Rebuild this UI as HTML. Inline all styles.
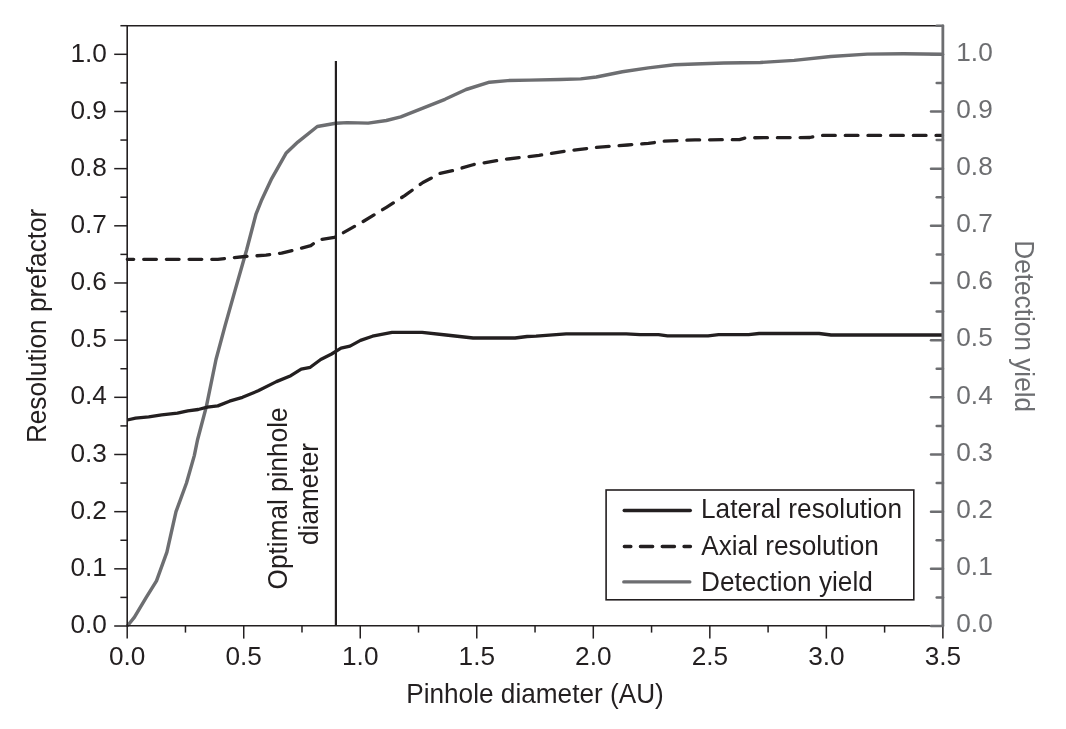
<!DOCTYPE html>
<html>
<head>
<meta charset="utf-8">
<title>Resolution prefactor and detection yield vs pinhole diameter</title>
<style>
  html, body { margin: 0; padding: 0; background: #ffffff; }
  body { width: 1066px; height: 729px; overflow: hidden; }
  svg { display: block; will-change: transform; }
  text { font-family: "Liberation Sans", sans-serif; font-size: 26.2px; }
  .k { fill: #231f20; }
  .g { fill: #6d6e71; }
</style>
</head>
<body>
<svg width="1066" height="729" viewBox="0 0 1066 729">
  <rect x="0" y="0" width="1066" height="729" fill="#ffffff"/>

  <!-- curves -->
  <g fill="none" stroke-linejoin="round">
    <!-- detection yield (gray) -->
    <polyline stroke="#6d6e71" stroke-width="3.45" stroke-linecap="butt"
      points="127.3,626 134.3,617.3 146.1,597.7 156.5,580.8 166.9,552.1 176,511.7 186.5,483 194.3,455.6 197.5,440 206.4,406.4 216,359.5 225.1,325.6 235.4,289.1 246.6,250 256.1,213.8 261.3,200.8 271.7,178.6 286,153.3 297.8,142.1 317.3,126.5 335.8,123.3 347.3,122.6 368.2,123.1 386.4,120.5 400.8,116.8 422.9,108.2 445,99.3 466.1,89.5 489.5,82.2 507.7,80.6 530,80.1 560,79.5 580.7,78.9 596.3,77 622.4,71.8 648.4,67.9 674.5,64.8 695,64 723.9,63 760.3,62.5 794.2,60.4 830.7,56.5 867.2,54.1 903.6,53.8 942.5,54.2"/>
    <!-- axial resolution (dashed) -->
    <polyline stroke="#231f20" stroke-width="3.3" stroke-linecap="round" stroke-dasharray="12.7 9.99" stroke-dashoffset="6.3"
      points="127.3,259.3 217.8,259.3 245.1,256.5 266,255.2 281.6,253.1 292,250.6 310.8,245.6 318.6,239.9 334.3,237.3 342.1,233.4 363,221.6 386.4,207.3 404.7,195.6 422.9,182.5 431,178.3 440,173.4 453,170.6 473.9,164.5 505.1,159.3 539,155.4 565.1,151.3 596.3,147.3 627.6,145 648.4,143.4 664.1,141.1 695,139.9 739.5,139.6 746,137.8 809.9,137.5 820.3,135.4 942.5,135.4"/>
    <!-- lateral resolution (solid) -->
    <polyline stroke="#231f20" stroke-width="3.3" stroke-linecap="butt"
      points="127.3,420 135.6,418.1 148.7,416.8 161.7,414.8 177.4,413.2 187.8,410.8 198.2,409.5 207.3,407.2 217.8,405.9 229.5,401.2 242.5,397.3 258.2,390.8 276.4,381.6 290.8,375.7 301.2,369.1 310.3,367.3 320.7,359.5 331.6,354 341,348.2 350,346.1 360.5,340.4 372.5,336.2 392,332.3 422.1,332.3 446.1,335 473.1,338 515.1,338 527.1,336.5 536.1,336.2 566.2,333.8 626.2,333.8 640,334.6 658.5,334.7 667.5,335.9 708.1,335.9 718.6,334.7 748.6,334.7 759.1,333.5 819.1,333.5 831.1,335 942.5,335"/>
  </g>

  <!-- optimal pinhole marker -->
  <line x1="335.9" y1="61" x2="335.9" y2="626" stroke="#231f20" stroke-width="2.2"/>

  <!-- black axes: left, bottom, top -->
  <g stroke="#231f20" stroke-width="1.5" fill="none">
    <line x1="127.2" y1="24.96" x2="127.2" y2="626.55" stroke-width="1.6"/>
    <line x1="127.2" y1="25.71" x2="936.85" y2="25.71"/>
    <line x1="127.2" y1="625.8" x2="930.85" y2="625.8"/>
    <line x1="114.2" y1="626" x2="127.2" y2="626"/>
    <line x1="120.4" y1="597.41" x2="127.2" y2="597.41"/>
    <line x1="114.2" y1="568.83" x2="127.2" y2="568.83"/>
    <line x1="120.4" y1="540.25" x2="127.2" y2="540.25"/>
    <line x1="114.2" y1="511.66" x2="127.2" y2="511.66"/>
    <line x1="120.4" y1="483.07" x2="127.2" y2="483.07"/>
    <line x1="114.2" y1="454.49" x2="127.2" y2="454.49"/>
    <line x1="120.4" y1="425.9" x2="127.2" y2="425.9"/>
    <line x1="114.2" y1="397.32" x2="127.2" y2="397.32"/>
    <line x1="120.4" y1="368.73" x2="127.2" y2="368.73"/>
    <line x1="114.2" y1="340.15" x2="127.2" y2="340.15"/>
    <line x1="120.4" y1="311.56" x2="127.2" y2="311.56"/>
    <line x1="114.2" y1="282.98" x2="127.2" y2="282.98"/>
    <line x1="120.4" y1="254.39" x2="127.2" y2="254.39"/>
    <line x1="114.2" y1="225.81" x2="127.2" y2="225.81"/>
    <line x1="120.4" y1="197.22" x2="127.2" y2="197.22"/>
    <line x1="114.2" y1="168.64" x2="127.2" y2="168.64"/>
    <line x1="120.4" y1="140.05" x2="127.2" y2="140.05"/>
    <line x1="114.2" y1="111.47" x2="127.2" y2="111.47"/>
    <line x1="120.4" y1="82.88" x2="127.2" y2="82.88"/>
    <line x1="114.2" y1="54.3" x2="127.2" y2="54.3"/>
    <line x1="120.4" y1="25.71" x2="127.2" y2="25.71"/>
    <line x1="127.2" y1="625.8" x2="127.2" y2="638.6"/>
    <line x1="185.46" y1="625.8" x2="185.46" y2="632.6"/>
    <line x1="243.73" y1="625.8" x2="243.73" y2="638.6"/>
    <line x1="301.99" y1="625.8" x2="301.99" y2="632.6"/>
    <line x1="360.25" y1="625.8" x2="360.25" y2="638.6"/>
    <line x1="418.51" y1="625.8" x2="418.51" y2="632.6"/>
    <line x1="476.78" y1="625.8" x2="476.78" y2="638.6"/>
    <line x1="535.04" y1="625.8" x2="535.04" y2="632.6"/>
    <line x1="593.3" y1="625.8" x2="593.3" y2="638.6"/>
    <line x1="651.56" y1="625.8" x2="651.56" y2="632.6"/>
    <line x1="709.83" y1="625.8" x2="709.83" y2="638.6"/>
    <line x1="768.09" y1="625.8" x2="768.09" y2="632.6"/>
    <line x1="826.35" y1="625.8" x2="826.35" y2="638.6"/>
    <line x1="884.61" y1="625.8" x2="884.61" y2="632.6"/>
    <line x1="942.88" y1="625.8" x2="942.88" y2="638.6"/>
  </g>
  <!-- gray right axis -->
  <g stroke="#6d6e71" fill="none" stroke-linecap="round">
    <line x1="942.85" y1="25.91" x2="942.85" y2="625.7" stroke-width="2.8"/>
    <line x1="931" y1="626" x2="943" y2="626" stroke-width="2.5"/>
    <line x1="936.7" y1="597.41" x2="943" y2="597.41" stroke-width="2.5"/>
    <line x1="931" y1="568.83" x2="943" y2="568.83" stroke-width="2.5"/>
    <line x1="936.7" y1="540.25" x2="943" y2="540.25" stroke-width="2.5"/>
    <line x1="931" y1="511.66" x2="943" y2="511.66" stroke-width="2.5"/>
    <line x1="936.7" y1="483.07" x2="943" y2="483.07" stroke-width="2.5"/>
    <line x1="931" y1="454.49" x2="943" y2="454.49" stroke-width="2.5"/>
    <line x1="936.7" y1="425.9" x2="943" y2="425.9" stroke-width="2.5"/>
    <line x1="931" y1="397.32" x2="943" y2="397.32" stroke-width="2.5"/>
    <line x1="936.7" y1="368.73" x2="943" y2="368.73" stroke-width="2.5"/>
    <line x1="931" y1="340.15" x2="943" y2="340.15" stroke-width="2.5"/>
    <line x1="936.7" y1="311.56" x2="943" y2="311.56" stroke-width="2.5"/>
    <line x1="931" y1="282.98" x2="943" y2="282.98" stroke-width="2.5"/>
    <line x1="936.7" y1="254.39" x2="943" y2="254.39" stroke-width="2.5"/>
    <line x1="931" y1="225.81" x2="943" y2="225.81" stroke-width="2.5"/>
    <line x1="936.7" y1="197.22" x2="943" y2="197.22" stroke-width="2.5"/>
    <line x1="931" y1="168.64" x2="943" y2="168.64" stroke-width="2.5"/>
    <line x1="936.7" y1="140.05" x2="943" y2="140.05" stroke-width="2.5"/>
    <line x1="931" y1="111.47" x2="943" y2="111.47" stroke-width="2.5"/>
    <line x1="936.7" y1="82.88" x2="943" y2="82.88" stroke-width="2.5"/>
    <line x1="931" y1="54.3" x2="943" y2="54.3" stroke-width="2.5"/>
    <line x1="936.7" y1="25.71" x2="943" y2="25.71" stroke-width="2.5"/>
  </g>

  <!-- tick labels -->
  <g>
    <text class="k" text-anchor="end" x="106.9" y="632.9">0.0</text>
    <text class="g" text-anchor="start" x="956.3" y="632.2">0.0</text>
    <text class="k" text-anchor="end" x="106.9" y="575.77">0.1</text>
    <text class="g" text-anchor="start" x="956.3" y="575.03">0.1</text>
    <text class="k" text-anchor="end" x="106.9" y="518.64">0.2</text>
    <text class="g" text-anchor="start" x="956.3" y="517.86">0.2</text>
    <text class="k" text-anchor="end" x="106.9" y="461.51">0.3</text>
    <text class="g" text-anchor="start" x="956.3" y="460.69">0.3</text>
    <text class="k" text-anchor="end" x="106.9" y="404.38">0.4</text>
    <text class="g" text-anchor="start" x="956.3" y="403.52">0.4</text>
    <text class="k" text-anchor="end" x="106.9" y="347.25">0.5</text>
    <text class="g" text-anchor="start" x="956.3" y="346.35">0.5</text>
    <text class="k" text-anchor="end" x="106.9" y="290.12">0.6</text>
    <text class="g" text-anchor="start" x="956.3" y="289.18">0.6</text>
    <text class="k" text-anchor="end" x="106.9" y="232.99">0.7</text>
    <text class="g" text-anchor="start" x="956.3" y="232.01">0.7</text>
    <text class="k" text-anchor="end" x="106.9" y="175.86">0.8</text>
    <text class="g" text-anchor="start" x="956.3" y="174.84">0.8</text>
    <text class="k" text-anchor="end" x="106.9" y="118.73">0.9</text>
    <text class="g" text-anchor="start" x="956.3" y="117.67">0.9</text>
    <text class="k" text-anchor="end" x="106.9" y="61.6">1.0</text>
    <text class="g" text-anchor="start" x="956.3" y="60.5">1.0</text>
    <text class="k" text-anchor="middle" x="127.2" y="664.7">0.0</text>
    <text class="k" text-anchor="middle" x="243.73" y="664.7">0.5</text>
    <text class="k" text-anchor="middle" x="360.25" y="664.7">1.0</text>
    <text class="k" text-anchor="middle" x="476.78" y="664.7">1.5</text>
    <text class="k" text-anchor="middle" x="593.3" y="664.7">2.0</text>
    <text class="k" text-anchor="middle" x="709.83" y="664.7">2.5</text>
    <text class="k" text-anchor="middle" x="826.35" y="664.7">3.0</text>
    <text class="k" text-anchor="middle" x="942.88" y="664.7">3.5</text>
  </g>

  <!-- axis titles -->
  <text class="k" text-anchor="middle" transform="translate(535,702.6) scale(1,1.035)">Pinhole diameter (AU)</text>
  <text class="k" text-anchor="middle" transform="translate(46.2,325.9) rotate(-90) scale(1,1.035)">Resolution prefactor</text>
  <text class="g" text-anchor="middle" transform="translate(1015,326.2) rotate(90) scale(1,1.035)">Detection yield</text>

  <!-- marker annotation -->
  <text class="k" text-anchor="middle" transform="translate(286.9,498.4) rotate(-90) scale(1,1.035)">Optimal pinhole</text>
  <text class="k" text-anchor="middle" transform="translate(318,494) rotate(-90) scale(1,1.035)">diameter</text>

  <!-- legend -->
  <rect x="606.1" y="490" width="307.7" height="109.8" fill="#ffffff" stroke="#231f20" stroke-width="1.6"/>
  <line x1="624.2" y1="510.5" x2="690.3" y2="510.5" stroke="#231f20" stroke-width="3.4" stroke-linecap="round"/>
  <line x1="624.3" y1="546.5" x2="690.5" y2="546.5" stroke="#231f20" stroke-width="3.3" stroke-linecap="round" stroke-dasharray="12.3 9.5" stroke-dashoffset="5.7"/>
  <line x1="623.8" y1="581.9" x2="689.8" y2="581.9" stroke="#6d6e71" stroke-width="3.4" stroke-linecap="round"/>
  <text class="k" transform="translate(701,517.6) scale(1,1.035)">Lateral resolution</text>
  <text class="k" transform="translate(701.2,554.7) scale(1,1.035)">Axial resolution</text>
  <text class="k" transform="translate(701,590.8) scale(1,1.035)">Detection yield</text>
</svg>
</body>
</html>
